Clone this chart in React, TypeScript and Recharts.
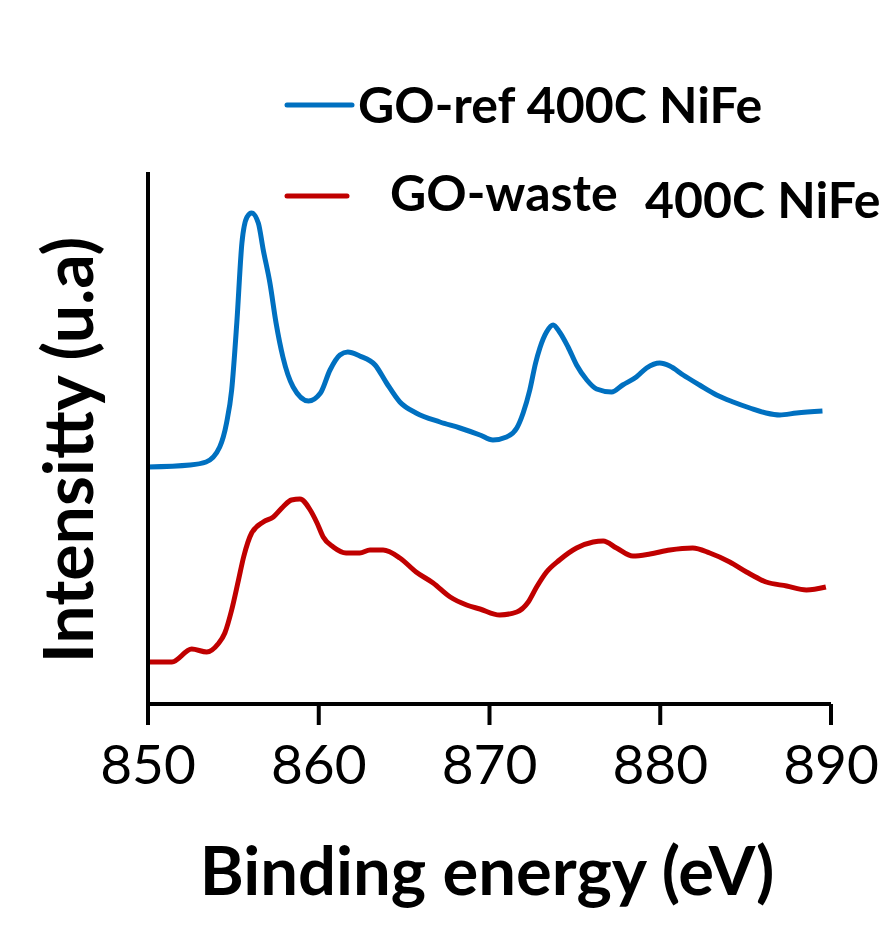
import React from "react";
import { LineChart, Line, XAxis, YAxis, Legend, Label } from "recharts";

const energyRef = [850, 852.46, 853.4, 854.2, 854.6, 854.9, 855.2, 855.5, 855.8, 856.07, 856.46, 856.75, 857.14, 857.5, 857.9, 858.5, 859.4, 860.1, 860.66, 861.24, 861.7, 862.4, 863.3, 863.97, 864.75, 865.7, 867.1, 868.27, 869.44, 870.2, 871.0, 871.6, 871.97, 872.36, 872.7, 872.95, 873.34, 873.73, 874.1, 874.6, 875.1, 875.7, 876.27, 877.15, 877.8, 878.6, 879.2, 879.97, 880.56, 881.34, 882.3, 883.3, 884.27, 885.25, 886.2, 887, 887.98, 889.5];
const intensityRef = [237, 239, 242, 257, 281, 314, 381, 461, 487, 491, 481, 454, 421, 381, 347, 317, 303, 311, 334, 349, 352, 348, 339, 321, 302, 291, 282, 276, 269, 264, 267, 276, 291, 314, 341, 356, 372, 379, 372, 357, 339, 324, 315, 312, 319, 327, 336, 341, 338, 329, 319, 309, 302, 296, 291, 289, 291, 293];

const energyWaste = [850, 851.4, 852.56, 853.44, 854.1, 854.5, 854.9, 855.3, 855.6, 856.07, 856.75, 857.34, 857.9, 858.4, 858.9, 859.5, 859.9, 860.26, 860.85, 861.6, 862.4, 863.0, 863.77, 864.75, 865.7, 866.7, 867.7, 868.66, 869.44, 870.6, 871.6, 872.27, 872.76, 873.34, 874.1, 875.1, 876.07, 876.66, 877.44, 878.4, 879.4, 880.56, 881.9, 882.9, 884.07, 885.05, 886.2, 887.4, 888.56, 889.7];
const intensityWaste = [42, 42, 55, 52, 60, 71, 94, 124, 147, 171, 182, 187, 197, 204, 205, 194, 181, 167, 157, 151, 151, 154, 154, 146, 132, 121, 107, 99, 95, 89, 92, 102, 117, 132, 144, 156, 162, 163, 156, 148, 150, 154, 156, 151, 142, 132, 122, 118, 114, 117];

const xTicks = [850, 860, 870, 880, 890];
const seriesNames = ["GO-ref 400C NiFe", "GO-waste|400C NiFe"];
const seriesColors = ["#0070C0", "#C00000"];

const refData = energyRef.map((e, i) => ({ e, v: intensityRef[i] }));
const wasteData = energyWaste.map((e, i) => ({ e, v: intensityWaste[i] }));

const FONT = "Lato, 'Open Sans', sans-serif";

const LegendContent = (props: any) => {
  const payload = props.payload || [];
  return (
    <svg width={885} height={240} style={{ position: "absolute", left: 0, top: 0, overflow: "visible" }}>
      {payload.map((p: any, i: number) => {
        const parts = String(p.value).split("|");
        if (i === 0) {
          return (
            <g key={i}>
              <line x1={287} x2={352} y1={105} y2={105} stroke={p.color} strokeWidth={5} strokeLinecap="round" />
              <text x={358} y={123} fontFamily={FONT} fontWeight={700} fontSize={50} fill="#000">{parts[0]}</text>
            </g>
          );
        }
        return (
          <g key={i}>
            <line x1={287} x2={347} y1={196} y2={196} stroke={p.color} strokeWidth={5} strokeLinecap="round" />
            <text x={390} y={211} fontFamily={FONT} fontWeight={700} fontSize={50} fill="#000">{parts[0]}</text>
            <text x={645} y={218} fontFamily={FONT} fontWeight={700} fontSize={50} fill="#000">{parts[1]}</text>
          </g>
        );
      })}
    </svg>
  );
};

const YLabel = () => {
  const cx = 93;
  const cy = 450;
  return (
    <text x={cx} y={cy} transform={`rotate(-90, ${cx}, ${cy})`} textAnchor="middle" fontFamily={FONT} fontWeight={700} fontSize={68} fill="#000">
      Intensitty (u.a)
    </text>
  );
};

const XLabel = () => (
  <text x={487} y={895} textAnchor="middle" fontFamily={FONT} fontWeight={700} fontSize={67} fill="#000">
    Binding energy (eV)
  </text>
);

export default function App() {
  return (
    <div style={{ position: "absolute", left: 0, top: 0, width: 885, height: 925, background: "#fff" }}>
      <LineChart width={885} height={925} margin={{ top: 172, right: 54, left: 0, bottom: 0 }}>
        <XAxis
          dataKey="e"
          type="number"
          domain={[850, 890]}
          ticks={xTicks}
          allowDataOverflow
          height={221}
          tickSize={21}
          tickMargin={20}
          axisLine={{ stroke: "#000", strokeWidth: 4 }}
          tickLine={{ stroke: "#000", strokeWidth: 4 }}
          tick={{ fill: "#000", fontSize: 55, fontFamily: FONT }}
        >
          <Label content={<XLabel />} />
        </XAxis>
        <YAxis
          type="number"
          domain={[0, 532]}
          width={148}
          tick={false}
          tickLine={false}
          axisLine={{ stroke: "#000", strokeWidth: 4 }}
        >
          <Label content={<YLabel />} />
        </YAxis>
        <Legend
          content={<LegendContent />}
          wrapperStyle={{ position: "absolute", left: 0, top: 0, width: 0, height: 0, overflow: "visible" }}
          payload={seriesNames.map((n, i) => ({ value: n, color: seriesColors[i], type: "line", id: n }))}
        />
        <Line data={refData} dataKey="v" name={seriesNames[0]} stroke={seriesColors[0]} strokeWidth={5} dot={false} type="monotone" isAnimationActive={false} />
        <Line data={wasteData} dataKey="v" name={seriesNames[1]} stroke={seriesColors[1]} strokeWidth={5} dot={false} type="monotone" isAnimationActive={false} />
      </LineChart>
    </div>
  );
}
